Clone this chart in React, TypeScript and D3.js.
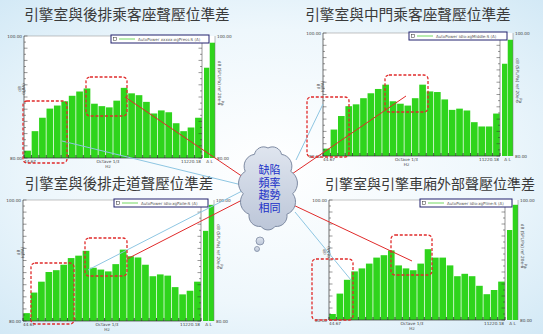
import React from "react";
import * as d3 from "d3";

// 1/3-octave band centres (44.67 Hz – 11220.18 Hz) and overall levels
const bands = ["50","63","80","100","125","160","200","250","315","400","500","630","800","1000","1250","1600","2000","2500","3150","4000","5000","6300","8000","10000"];
const sideLabels = ["A", "L"];
const yMinor = d3.range(80, 101, 1);

const rearSeat = [81.2, 84.4, 86.6, 88.1, 88.6, 89.3, 90.2, 90.9, 91.4, 88.9, 88.5, 88.3, 89.4, 91.5, 90.6, 90.3, 89.2, 87.3, 87.8, 87.5, 85.7, 84.4, 85.0, 86.6];
const rearSeatSide = [94.8, 98.9];
const midSeat = [81.2, 84.3, 86.5, 88.1, 88.4, 89.4, 90.2, 90.9, 91.6, 88.9, 88.5, 88.2, 89.4, 91.6, 90.5, 90.4, 89.2, 87.5, 87.7, 87.4, 85.5, 84.8, 84.8, 86.9];
const midSeatSide = [95.0, 98.9];
const rearAisle = [81.3, 84.7, 86.5, 88.1, 88.4, 89.3, 90.4, 90.8, 91.6, 88.8, 88.5, 88.2, 89.4, 91.8, 90.7, 90.5, 89.3, 87.4, 87.7, 87.5, 85.6, 84.4, 85.0, 86.5];
const rearAisleSide = [94.9, 99.2];
const outside = [81.0, 84.4, 86.7, 88.1, 88.6, 89.4, 90.4, 90.8, 91.6, 89.1, 88.6, 88.3, 89.4, 91.8, 90.4, 90.4, 89.1, 87.3, 87.7, 87.3, 85.7, 84.3, 85.0, 86.4];
const outsideSide = [95.0, 99.2];

const titles = [
  "引擎室與後排乘客座聲壓位準差",
  "引擎室與中門乘客座聲壓位準差",
  "引擎室與後排走道聲壓位準差",
  "引擎室與引擎車廂外部聲壓位準差",
];
const legends = [
  "AutoPower xxxxx:xgPress:S (A)",
  "AutoPower idlo:xgMiddle:S (A)",
  "AutoPower idlo:xgPaile:S (A)",
  "AutoPower idlo:xgPline:S (A)",
];
const cloudLines = ["缺陷", "頻率", "趨勢", "相同"];

const BAR = "#2fd41c";
const RED = "#e02a2a";
const BLUE = "#8ec6e2";

type Cfg = {
  title: string; tx: number; ty: number; fs: number;
  left: number; top: number; right: number; bottom: number;
  values: number[]; side: number[]; legend: string; legendX: number;
  boxes: number[][];
};

const panels: Cfg[] = [
  { title: titles[0], tx: 127, ty: 20, fs: 14.7, left: 24, top: 36, right: 202, bottom: 158, values: rearSeat, side: rearSeatSide, legend: legends[0], legendX: 111, boxes: [[23, 101, 67, 163], [86, 77, 127, 116]] },
  { title: titles[1], tx: 408, ty: 20, fs: 14.7, left: 323, top: 33, right: 500, bottom: 156, values: midSeat, side: midSeatSide, legend: legends[1], legendX: 409, boxes: [[307, 97, 349, 157], [385, 75, 428, 112]] },
  { title: titles[2], tx: 119, ty: 189, fs: 14.5, left: 23, top: 200, right: 201, bottom: 321, values: rearAisle, side: rearAisleSide, legend: legends[2], legendX: 114, boxes: [[31, 263, 74, 324], [85, 238, 127, 276]] },
  { title: titles[3], tx: 430, ty: 189, fs: 14, left: 329, top: 200, right: 505, bottom: 320, values: outside, side: outsideSide, legend: legends[3], legendX: 420, boxes: [[312, 259, 353, 320], [391, 235, 432, 275]] },
];

const connectors = [
  { x1: 125, y1: 97, x2: 246, y2: 179, c: RED },
  { x1: 62, y1: 141, x2: 246, y2: 186, c: BLUE },
  { x1: 406, y1: 96, x2: 289, y2: 176, c: RED },
  { x1: 323, y1: 104, x2: 296, y2: 160, c: BLUE },
  { x1: 246, y1: 198, x2: 127, y2: 259, c: RED },
  { x1: 244, y1: 190, x2: 88, y2: 270, c: BLUE },
  { x1: 289, y1: 203, x2: 412, y2: 261, c: RED },
  { x1: 295, y1: 212, x2: 351, y2: 280, c: BLUE },
];

const SMALL = "DejaVu Sans, sans-serif";

function Panel({ cfg }: { cfg: Cfg }) {
  const { left, top, right, bottom } = cfg;
  const x = d3.scaleBand<string>().domain(bands).range([left, right]).paddingInner(0.1).paddingOuter(0.03);
  const xs = d3.scaleBand<string>().domain(sideLabels).range([right + 2, right + 13]).paddingInner(0.08);
  const y = d3.scaleLinear().domain([80, 100]).range([bottom, top]);
  const step = (right - left) / bands.length;
  const sideR = right + 13;
  const midY = (top + bottom) / 2;
  return (
    <g>
      <text x={cfg.tx} y={cfg.ty} textAnchor="middle" fontFamily="Noto Sans CJK TC" fontSize={cfg.fs} fill="#3a3a3a">{cfg.title}</text>
      <rect x={left} y={top} width={sideR - left} height={bottom - top} fill="#ffffff" />
      {cfg.values.map((v, i) => (
        <rect key={i} x={x(bands[i])} y={y(v)} width={x.bandwidth()} height={bottom - y(v)} fill={BAR} />
      ))}
      {cfg.side.map((v, i) => (
        <rect key={"s" + i} x={xs(sideLabels[i])} y={y(v)} width={xs.bandwidth()} height={bottom - y(v)} fill={BAR} />
      ))}
      <line x1={left} x2={right} y1={top} y2={top} stroke="#9a9a9a" strokeWidth={0.6} />
      <line x1={left} x2={left} y1={top} y2={bottom} stroke="#333" strokeWidth={0.7} />
      <line x1={left} x2={right} y1={bottom} y2={bottom} stroke="#333" strokeWidth={0.7} />
      <line x1={right} x2={right} y1={top} y2={bottom} stroke="#555" strokeWidth={0.6} />
      <line x1={sideR} x2={sideR} y1={top} y2={bottom} stroke="#777" strokeWidth={0.5} />
      {d3.range(bands.length + 1).map((i) => (
        <line key={"xt" + i} x1={left + i * step} x2={left + i * step} y1={bottom} y2={bottom - 3} stroke="#111" strokeWidth={0.7} />
      ))}
      {yMinor.map((t) => (
        <g key={"ym" + t}>
          <line x1={left} x2={left + (t % 2 === 0 ? 3.5 : 2)} y1={y(t)} y2={y(t)} stroke="#333" strokeWidth={0.5} />
          <line x1={right} x2={right - (t % 2 === 0 ? 3.5 : 2)} y1={y(t)} y2={y(t)} stroke="#333" strokeWidth={0.5} />
        </g>
      ))}
      <g fontFamily={SMALL} fontSize={4.2} fill="#444">
        <text x={left - 2} y={y(100) + 1.5} textAnchor="end">100.00</text>
        <text x={left - 2} y={y(80) + 1.5} textAnchor="end">80.00</text>
        <text x={sideR + 2} y={y(100) + 1.5}>100.00</text>
        <text x={sideR + 2} y={y(80) + 1.5}>80.00</text>
        <text transform={`translate(${left - 3},${midY - 8}) rotate(-90)`} textAnchor="middle">dB</text>
        <text transform={`translate(${left + 0.5},${midY - 8}) rotate(-90)`} textAnchor="middle">(dBA)</text>
        <text transform={`translate(${sideR + 3},${midY - 14}) rotate(90)`} textAnchor="middle">dB (SPL/Pa) ref 20e-6</text>
        <text transform={`translate(${sideR + 6},${midY + 6}) rotate(90)`} textAnchor="middle">Pa</text>
        <text x={left} y={bottom + 5}>44.67</text>
        <text x={(left + right) / 2 - 5} y={bottom + 5} textAnchor="middle">Octave 1/3</text>
        <text x={(left + right) / 2 - 5} y={bottom + 10} textAnchor="middle">Hz</text>
        <text x={right - 1} y={bottom + 5} textAnchor="end">11220.18</text>
        <text x={right + 7.5} y={bottom + 5} textAnchor="middle">A L</text>
      </g>
      <rect x={cfg.legendX} y={top - 1} width={right + 7 - cfg.legendX} height={8} fill="#fff" stroke="#22226e" strokeWidth={1} />
      <rect x={cfg.legendX + 2.5} y={top + 1.5} width={3} height={3} fill="none" stroke="#333" strokeWidth={0.5} />
      <line x1={cfg.legendX + 8} x2={cfg.legendX + 24} y1={top + 3} y2={top + 3} stroke="#4fcf3a" strokeWidth={0.8} />
      <text x={cfg.legendX + 27} y={top + 4.5} fontFamily={SMALL} fontSize={4} fill="#555">{cfg.legend}</text>
    </g>
  );
}

function cloudPath(cx: number, cy: number, rx: number, ry: number, n: number) {
  const pts = d3.range(n).map((i) => {
    const a = -Math.PI / 2 + (i / n) * 2 * Math.PI;
    return [cx + rx * Math.cos(a), cy + ry * Math.sin(a)];
  });
  let d = `M${pts[0][0]},${pts[0][1]}`;
  for (let i = 0; i < n; i++) {
    const p = pts[i], q = pts[(i + 1) % n];
    const chord = Math.hypot(q[0] - p[0], q[1] - p[1]);
    const r = chord * 0.62;
    d += ` A${r},${r} 0 0 1 ${q[0]},${q[1]}`;
  }
  return d + "Z";
}

export default function App() {
  const cx = 268, cy = 188;
  return (
    <svg width={543} height={334} style={{ position: "absolute", left: 0, top: 0 }}>
      <defs>
        <radialGradient id="bg" cx="50%" cy="50%" r="75%">
          <stop offset="0%" stopColor="#ffffff" />
          <stop offset="55%" stopColor="#eef7fc" />
          <stop offset="100%" stopColor="#cfe7f5" />
        </radialGradient>
        <linearGradient id="cloudFill" x1="0" y1="0" x2="0" y2="1">
          <stop offset="0%" stopColor="#dfe5ef" />
          <stop offset="100%" stopColor="#bcc6d8" />
        </linearGradient>
      </defs>
      <rect width={543} height={334} fill="url(#bg)" />
      {panels.map((p, i) => <Panel key={i} cfg={p} />)}
      {connectors.map((c, i) => (
        <line key={i} x1={c.x1} y1={c.y1} x2={c.x2} y2={c.y2} stroke={c.c} strokeWidth={1} />
      ))}
      {panels.map((p, i) => p.boxes.map((b, j) => (
        <rect key={i + "-" + j} x={b[0]} y={b[1]} width={b[2] - b[0]} height={b[3] - b[1]} rx={4} fill="none" stroke={RED} strokeWidth={1.3} strokeDasharray="3,1.8" />
      )))}
      <path d={cloudPath(cx, cy, 25, 40, 11)} fill="url(#cloudFill)" stroke="#7d8aa2" strokeWidth={1} />
      <circle cx={260} cy={241} r={4} fill="url(#cloudFill)" stroke="#7d8aa2" strokeWidth={0.8} />
      <circle cx={257} cy={249} r={2.5} fill="url(#cloudFill)" stroke="#7d8aa2" strokeWidth={0.8} />
      {cloudLines.map((t, i) => (
        <text key={t} x={269.5} y={174 + i * 12.5} textAnchor="middle" fontFamily="Liberation Sans, Noto Sans CJK TC" fontSize={11} fill="#2030c8">{t}</text>
      ))}
    </svg>
  );
}
